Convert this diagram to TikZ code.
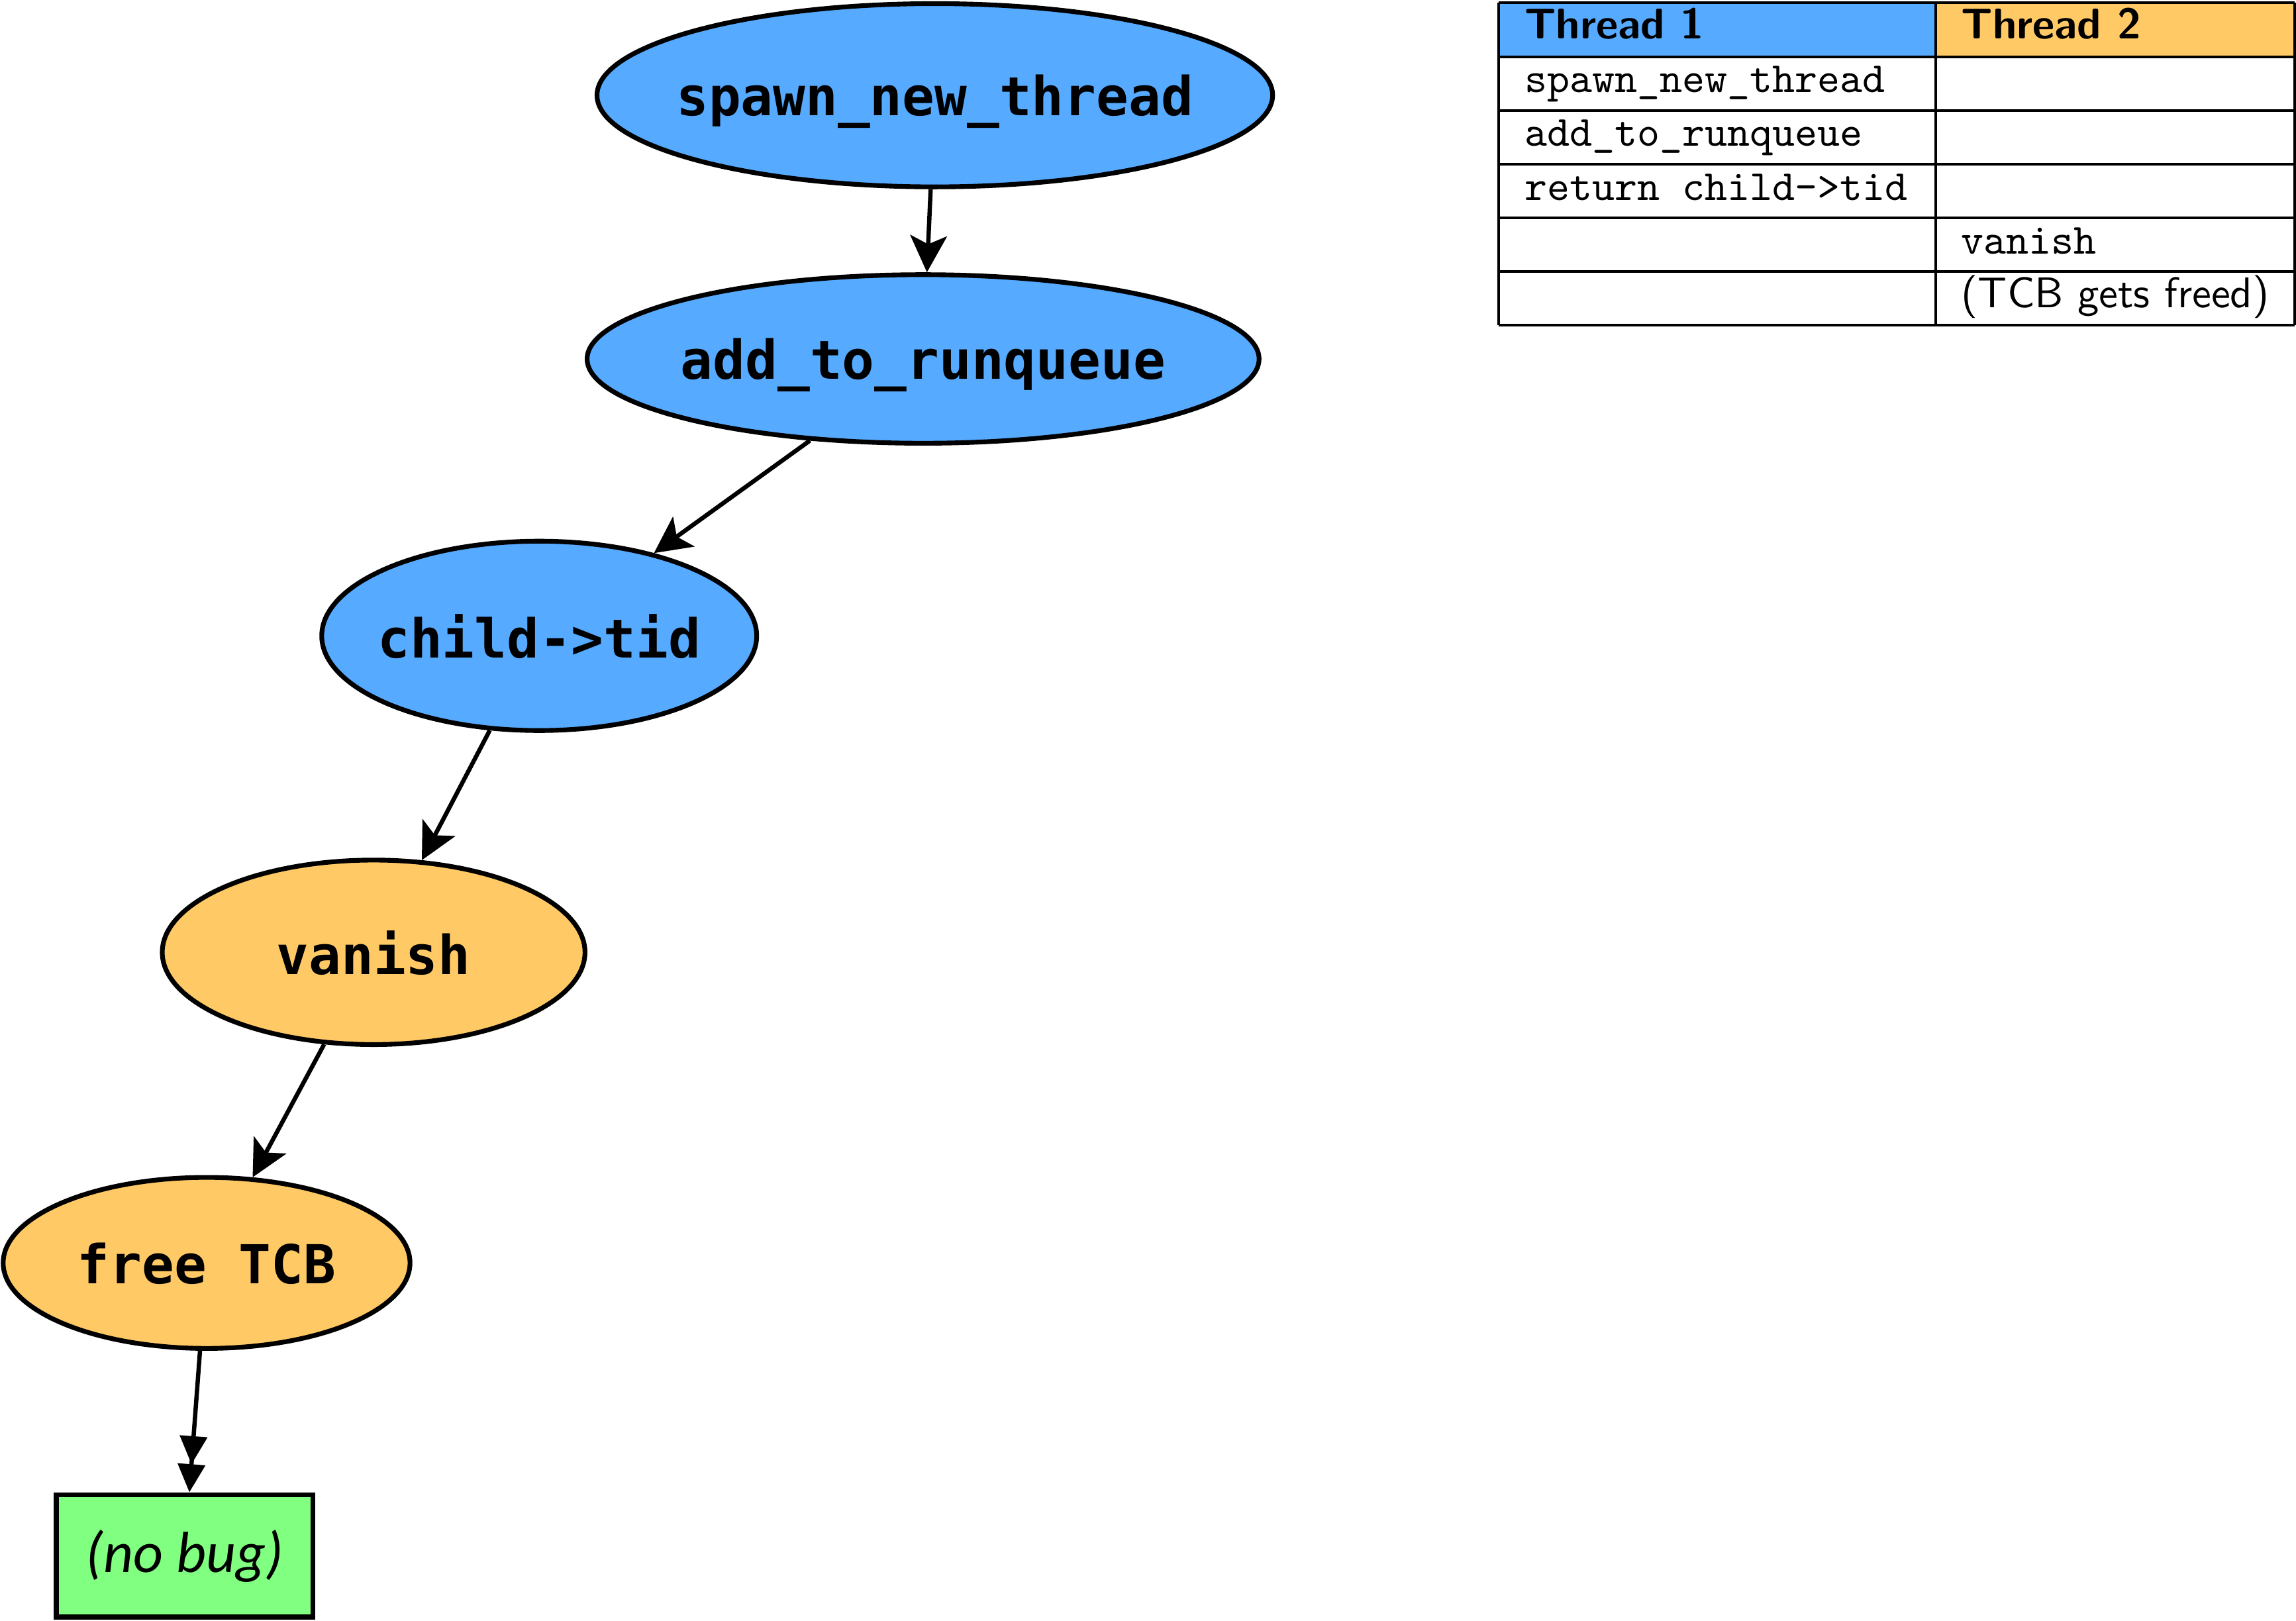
\documentclass[tikz,border=0pt]{standalone}
\usepackage{fontspec}
\usetikzlibrary{shapes.geometric, arrows.meta}
\newfontfamily\nodefont{DejaVu Sans Mono}
\newfontfamily\bugfont{Carlito}
\definecolor{threadblue}{HTML}{56AAFF}
\definecolor{threadorange}{HTML}{FFC966}
\definecolor{nobuggreen}{HTML}{80FF80}
\newcommand{\lbl}[1]{\makebox[0pt]{#1}}
\tikzset{
	state/.style={ellipse, draw, line width=1.1pt, inner sep=0pt, text depth=0pt, font=\nodefont\bfseries\fontsize{12.5}{15}\selectfont},
	tonestate/.style={state, fill=threadblue},
	ttwostate/.style={state, fill=threadorange},
	flow/.style={-{Stealth[length=0.3cm, width=0.3cm, inset=0.07cm]}, line width=1pt},
	flowend/.style={-{Triangle[length=0.23cm, width=0.22cm, sep=0pt]Triangle[length=0.23cm, width=0.22cm]}, line width=1pt},
	cell/.style={anchor=base west, inner sep=0pt}
}
\begin{document}
\begin{tikzpicture}[x=0.012cm, y=-0.012cm]
	\useasboundingbox (0,0) rectangle (1567,1106.4);

	\node [tonestate, minimum width=5.53cm, minimum height=1.5cm] (spawn) at (638,65) {\lbl{spawn\_new\_thread}};
	\node [tonestate, minimum width=5.5cm, minimum height=1.38cm] (add) at (630,245) {\lbl{add\_to\_runqueue}};
	\node [tonestate, minimum width=3.56cm, minimum height=1.55cm] (child) at (368,434) {\lbl{child->tid}};
	\node [ttwostate, minimum width=3.46cm, minimum height=1.51cm] (vanish) at (255,650) {\lbl{vanish}};
	\node [ttwostate, minimum width=3.33cm, minimum height=1.4cm] (free) at (141,862) {\lbl{free TCB}};
	\node [rectangle, draw, fill=nobuggreen, line width=1.2pt, minimum width=2.1cm, minimum height=1.0cm,
		font=\bugfont\itshape\fontsize{13.5}{16}\selectfont] (nobug) at (126,1062) {(no bug)};

	\draw [flow] (spawn) -- (add);
	\draw [flow] (add) -- (child);
	\draw [flow] (child) -- (vanish);
	\draw [flow] (vanish) -- (free);
	\draw [flowend] (free) -- (nobug);

	\fill [threadblue] (1023,2) rectangle (1321,38.67);
	\fill [threadorange] (1321,2) rectangle (1566,38.67);
	\foreach \i in {0,...,6}
		\draw [line width=0.6pt] (1023,{2+36.67*\i}) -- (1566,{2+36.67*\i});
	\foreach \x in {1023,1321,1566}
		\draw [line width=0.6pt] (\x,2) -- (\x,222);

	\node [cell, font=\sffamily\bfseries] (head1) at (1040,26.5) {Thread 1};
	\node [cell, font=\sffamily\bfseries] (head2) at (1338,26.5) {Thread 2};
	\node [cell, font=\ttfamily] (row1) at (1040,63.2) {spawn\_new\_thread};
	\node [cell, font=\ttfamily] (row2) at (1040,99.8) {add\_to\_runqueue};
	\node [cell, font=\ttfamily] (row3) at (1040,136.5) {return child->tid};
	\node [cell, font=\ttfamily] (row4) at (1338,173.2) {vanish};
	\node [cell, font=\sffamily] (row5) at (1338,209.8) {(TCB gets freed)};
\end{tikzpicture}
\end{document}
